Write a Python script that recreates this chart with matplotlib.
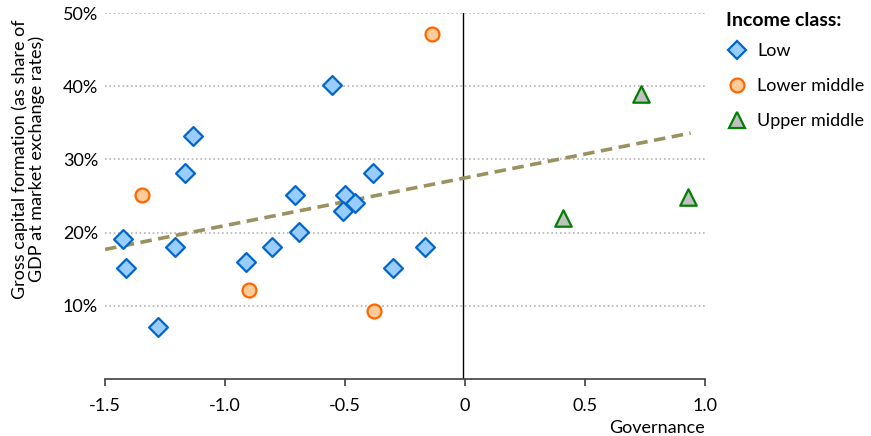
import matplotlib
matplotlib.use("Agg")
import matplotlib.pyplot as plt
from matplotlib.lines import Line2D

plt.rcParams['font.family'] = ['Lato', 'DejaVu Sans']

# Governance score vs gross capital formation (% of GDP)
low_x = [-1.425, -1.413, -1.279, -1.208, -1.167, -1.133, -0.912, -0.804, -0.708,
         -0.692, -0.554, -0.500, -0.508, -0.458, -0.383, -0.300, -0.167]
low_y = [19.1, 15.2, 7.1, 18.0, 28.1, 33.2, 16.0, 18.0, 25.1,
         20.1, 40.1, 25.1, 22.9, 24.0, 28.1, 15.2, 18.0]

lower_mid_x = [-1.346, -0.900, -0.379, -0.138]
lower_mid_y = [25.1, 12.2, 9.3, 47.1]

upper_mid_x = [0.733, 0.408, 0.929]
upper_mid_y = [39.0, 22.0, 24.8]

# trend line end points as drawn in the source
trend_x = [-1.5, 0.94]
trend_y = [17.7, 33.6]

x_ticks = [-1.5, -1.0, -0.5, 0, 0.5, 1.0]
x_tick_labels = ['-1.5', '-1.0', '-0.5', '0', '0.5', '1.0']
y_ticks = [10, 20, 30, 40, 50]
y_tick_labels = ['10%', '20%', '30%', '40%', '50%']

fs = 13

fig = plt.figure(figsize=(8.71, 4.36), dpi=100)
ax = fig.add_axes([105 / 871, 1 - 379 / 436, 600 / 871, 366 / 436])

# grid
for yv in y_ticks:
    ax.axhline(yv, color='#b4b4b4', lw=1.2, ls=(0, (1, 1.6)), zorder=1)
ax.axvline(-0.008, color='black', lw=1.0, zorder=2)

ax.plot(trend_x, trend_y, color='#9a9160', lw=2.6, ls=(0, (3.2, 1.8)), zorder=3)

ax.scatter(low_x, low_y, marker='D', s=92, facecolor='#99ccff', edgecolor='#0066cc',
           linewidths=1.6, zorder=4)
ax.scatter(lower_mid_x, lower_mid_y, marker='o', s=100, facecolor='#ffcc99',
           edgecolor='#ff6600', linewidths=1.6, zorder=4)
ax.scatter(upper_mid_x, upper_mid_y, marker='^', s=140, facecolor='#c0c0c0',
           edgecolor='#008000', linewidths=1.6, zorder=4)

ax.set_xlim(-1.5, 1.0)
ax.set_ylim(0, 50)
ax.set_xticks(x_ticks)
ax.set_xticklabels(x_tick_labels, fontsize=fs)
ax.set_yticks(y_ticks)
ax.set_yticklabels(y_tick_labels, fontsize=fs)
ax.tick_params(axis='y', length=0, pad=5)
ax.tick_params(axis='x', length=5, width=1.2, color='#404040', pad=9)

for side in ['left', 'right', 'top']:
    ax.spines[side].set_visible(False)
ax.spines['bottom'].set_color('#404040')
ax.spines['bottom'].set_linewidth(1.2)

ax.set_ylabel('Gross capital formation (as share of\nGDP at market exchange rates)',
              fontsize=fs, linespacing=1.05)
# right edge of the label ~45px from the figure's left edge, centred a bit above middle
ax.yaxis.set_label_coords(-(105 - 45) / 600, 0.60)
ax.set_xlabel('Governance', fontsize=fs, loc='right', labelpad=4)

handles = [
    Line2D([], [], marker='D', ls='none', markersize=9.5, markerfacecolor='#99ccff',
           markeredgecolor='#0066cc', markeredgewidth=1.6),
    Line2D([], [], marker='o', ls='none', markersize=10, markerfacecolor='#ffcc99',
           markeredgecolor='#ff6600', markeredgewidth=1.6),
    Line2D([], [], marker='^', ls='none', markersize=11.5, markerfacecolor='#c0c0c0',
           markeredgecolor='#008000', markeredgewidth=1.6),
]
leg = fig.legend(handles, ['Low', 'Lower middle', 'Upper middle'],
                 title='Income class:', loc='upper left',
                 bbox_to_anchor=(719 / 871, 1 - 5 / 436), frameon=False,
                 fontsize=fs, title_fontproperties={'weight': 'bold', 'size': 14},
                 handletextpad=0.5, labelspacing=1.05, handlelength=1.2,
                 borderaxespad=0)
leg._legend_box.align = 'left'
leg._legend_box.sep = 10

fig.savefig('out.png', dpi=100)
